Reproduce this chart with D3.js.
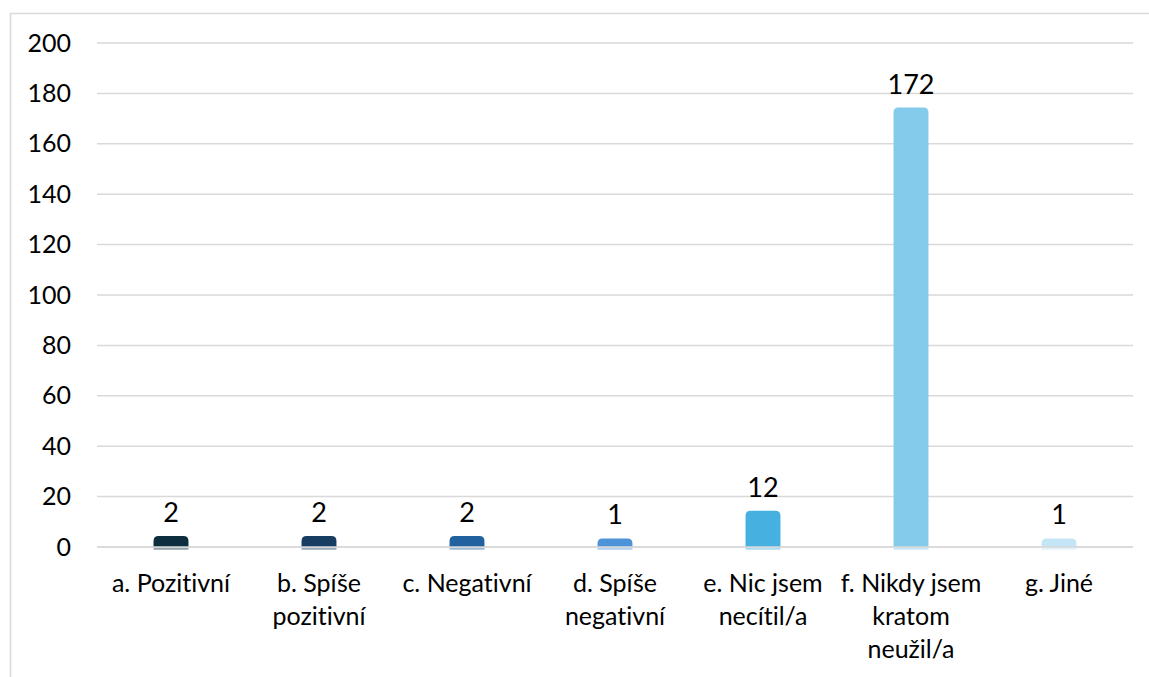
<!DOCTYPE html>
<html><head><meta charset="utf-8">
<script src="https://cdn.jsdelivr.net/npm/d3@7"></script>
<style>
html,body{margin:0;padding:0;background:#fff;}
svg{display:block;font-family:Lato, "Open Sans", sans-serif;font-variant-ligatures:none;font-feature-settings:"liga" 0, "clig" 0;}
text{font-variant-ligatures:none;}
</style></head>
<body>
<script>
const categories = [
  ["a. Pozitivní"],
  ["b. Spíše", "pozitivní"],
  ["c. Negativní"],
  ["d. Spíše", "negativní"],
  ["e. Nic jsem", "necítil/a"],
  ["f. Nikdy jsem", "kratom", "neužil/a"],
  ["g. Jiné"]
];
const values = [2, 2, 2, 1, 12, 172, 1];
const colors = ["#0c2e3f", "#173d63", "#2161a0", "#4d93d9", "#46b1e1", "#84cbeb", "#c4e5f6"];
const yTicks = [0, 20, 40, 60, 80, 100, 120, 140, 160, 180, 200];

const W = 1149, H = 677;
const svg = d3.select("body").append("svg").attr("width", W).attr("height", H);

// outer border
svg.append("path").attr("d", "M10.5,677 L10.5,13.5 L1149,13.5")
  .attr("fill", "none").attr("stroke", "#d9d9d9").attr("stroke-width", 1.5);

const x = d3.scaleBand().domain(d3.range(categories.length)).range([97, 1133])
  .paddingInner(0.764).paddingOuter(0.382);
const y = d3.scaleLinear().domain([0, 200]).range([547, 43]);

// gridlines
svg.append("g").selectAll("line").data(yTicks).join("line")
  .attr("x1", 97).attr("x2", 1133)
  .attr("y1", d => y(d)).attr("y2", d => y(d))
  .attr("stroke", "#d9d9d9").attr("stroke-width", 1.5);

// y axis labels
const yAxis = d3.axisLeft(y).tickValues(yTicks).tickSize(0).tickPadding(0);
const gy = svg.append("g").attr("transform", "translate(71,0)").call(yAxis);
gy.select(".domain").remove();
gy.selectAll("text").attr("font-size", 25).attr("fill", "#000").attr("font-family", "Lato, 'Open Sans', sans-serif");

// bars with rounded caps
const cap = 6, r = 5;
const bw = x.bandwidth();
function barPath(i, v) {
  const x0 = x(i), x1 = x0 + bw, yb = y(0), yt = y(v) - cap;
  return `M${x0},${yb} L${x0},${yt + r} Q${x0},${yt} ${x0 + r},${yt} L${x1 - r},${yt} Q${x1},${yt} ${x1},${yt + r} L${x1},${yb} Z`;
}
const bars = svg.append("g");
bars.selectAll("path").data(values).join("path")
  .attr("d", (v, i) => barPath(i, v))
  .attr("fill", (v, i) => colors[i]);
// light strip under baseline
bars.selectAll("rect").data(values).join("rect")
  .attr("x", (v, i) => x(i)).attr("width", bw)
  .attr("y", y(0) + 0.75).attr("height", 2)
  .attr("fill", (v, i) => colors[i]).attr("opacity", 0.45);
// baseline gridline across bars
svg.append("line").attr("x1", 97).attr("x2", 1133).attr("y1", y(0)).attr("y2", y(0))
  .attr("stroke", "#d9d9d9").attr("stroke-width", 1.5);

// value labels
svg.append("g").selectAll("text").data(values).join("text")
  .attr("x", (v, i) => x(i) + bw / 2)
  .attr("y", v => y(v) - cap - 14)
  .attr("text-anchor", "middle").attr("font-size", 27).attr("fill", "#000")
  .text(v => v);

// category labels
const gx = svg.append("g");
categories.forEach((lines, i) => {
  const t = gx.append("text").attr("text-anchor", "middle").attr("font-size", 25).attr("fill", "#000");
  lines.forEach((ln, k) => {
    t.append("tspan").attr("x", x(i) + bw / 2).attr("y", 592 + k * 33).text(ln);
  });
});
</script>
</body></html>
